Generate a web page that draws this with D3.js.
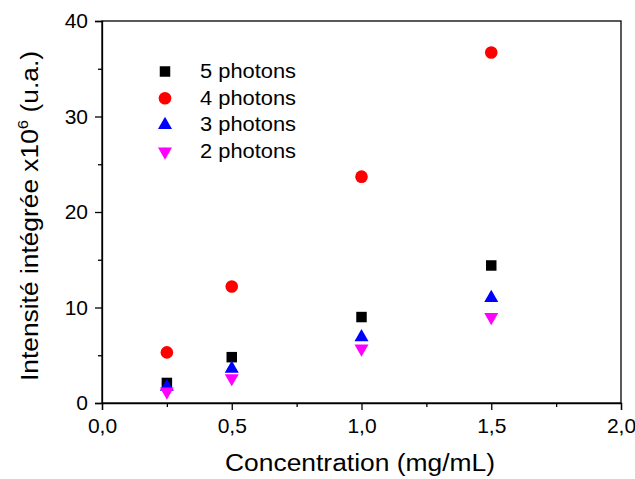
<!DOCTYPE html>
<html><head><meta charset="utf-8">
<script src="https://cdn.jsdelivr.net/npm/d3@7"></script>
<style>body{margin:0;background:#fff}svg{display:block}</style>
</head><body>
<script>
const concentrations = [0.25, 0.5, 1.0, 1.5];
const photons5 = [2.1, 4.8, 9.0, 14.4];
const photons4 = [5.3, 12.2, 23.7, 36.7];
const photons3 = [1.7, 3.6, 6.9, 11.0];
const photons2 = [1.2, 2.6, 5.7, 9.0];
const seriesNames = ["5 photons", "4 photons", "3 photons", "2 photons"];
const xTicks = [0, 0.5, 1.0, 1.5, 2.0];
const yTicks = [0, 10, 20, 30, 40];

const W = 635, H = 479;
const m = {left: 102, right: 14, top: 21, bottom: 76};
const svg = d3.select("body").append("svg").attr("width", W).attr("height", H);
const x = d3.scaleLinear().domain([0, 2]).range([m.left, W - m.right]);
const y = d3.scaleLinear().domain([0, 40]).range([H - m.bottom, m.top]);
const font = "Arial, 'Liberation Sans', sans-serif";

const series = [
  {name: seriesNames[0], vals: photons5, color: "#000000", sym: d3.symbolSquare, size: 110, rot: 0},
  {name: seriesNames[1], vals: photons4, color: "#ff0000", sym: d3.symbolCircle, size: 125, rot: 0},
  {name: seriesNames[2], vals: photons3, color: "#0000ff", sym: d3.symbolTriangle, size: 85, rot: 0},
  {name: seriesNames[3], vals: photons2, color: "#ff00ff", sym: d3.symbolTriangle, size: 85, rot: 180}
];

// frame
svg.append("rect").attr("x", m.left).attr("y", m.top)
  .attr("width", W - m.right - m.left).attr("height", H - m.bottom - m.top)
  .attr("fill", "none").attr("stroke", "#000").attr("stroke-width", 1.3);

// axes
svg.append("g").attr("transform", `translate(0,${H - m.bottom})`)
  .call(d3.axisBottom(x).tickValues(xTicks).tickSize(7).tickPadding(8)
    .tickFormat(d => d3.format(".1f")(d).replace(".", ",")));
svg.append("g").attr("transform", `translate(0,${H - m.bottom})`)
  .call(d3.axisBottom(x).tickValues([0.25, 0.75, 1.25, 1.75]).tickSize(4).tickFormat(""))
  .call(g => g.select(".domain").remove());
svg.append("g").attr("transform", `translate(${m.left},0)`)
  .call(d3.axisLeft(y).tickValues(yTicks).tickSize(7).tickPadding(7));
svg.append("g").attr("transform", `translate(${m.left},0)`)
  .call(d3.axisLeft(y).tickValues([5, 15, 25, 35]).tickSize(4).tickFormat(""))
  .call(g => g.select(".domain").remove());
svg.selectAll(".tick line").attr("stroke-width", 1.3);
svg.selectAll(".domain").attr("stroke-width", 1.3);
svg.selectAll(".tick text").attr("font-family", font).attr("font-size", 21).attr("fill", "#000");

// axis titles
svg.append("text").attr("x", 360).attr("y", 471).attr("text-anchor", "middle")
  .attr("font-family", font).attr("font-size", 23.5)
  .attr("textLength", 270).attr("lengthAdjust", "spacingAndGlyphs")
  .text("Concentration (mg/mL)");
const yt = svg.append("text").attr("transform", `translate(38,${y(20) + 4}) rotate(-90)`)
  .attr("text-anchor", "middle").attr("font-family", font).attr("font-size", 23.5)
  .attr("textLength", 330).attr("lengthAdjust", "spacingAndGlyphs");
yt.append("tspan").text("Intensité intégrée x10");
yt.append("tspan").attr("dy", -10).attr("font-size", 15).text("6");
yt.append("tspan").attr("dy", 10).text(" (u.a.)");

// points
series.forEach(s => {
  svg.append("g").selectAll("path").data(s.vals).join("path")
    .attr("d", d3.symbol().type(s.sym).size(s.size))
    .attr("transform", (d, i) => `translate(${x(concentrations[i])},${y(d)}) rotate(${s.rot})`)
    .attr("fill", s.color);
});

// legend
const lg = svg.append("g");
series.forEach((s, i) => {
  const ly = 71.5 + i * 26.7;
  lg.append("path").attr("d", d3.symbol().type(s.sym).size(s.size))
    .attr("transform", `translate(165,${ly}) rotate(${s.rot})`).attr("fill", s.color);
  lg.append("text").attr("x", 200).attr("y", ly + 6.5).attr("font-family", font)
    .attr("font-size", 20.5).attr("textLength", 96).attr("lengthAdjust", "spacingAndGlyphs")
    .text(s.name);
});
</script>
</body></html>
